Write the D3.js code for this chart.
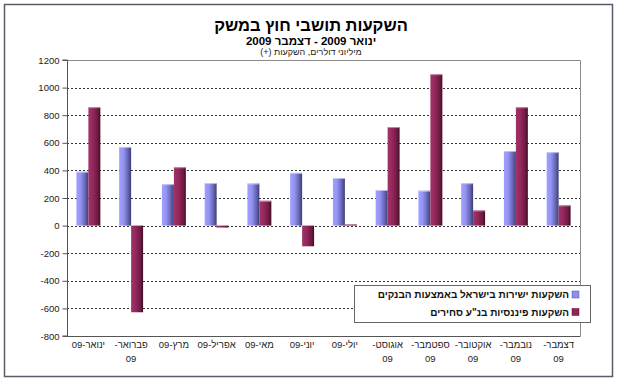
<!DOCTYPE html>
<html><head><meta charset="utf-8">
<script src="https://cdn.jsdelivr.net/npm/d3@7/dist/d3.min.js"></script>
<style>
body{margin:0;background:#fff;}
svg{display:block;font-family:"Liberation Sans",Arial,sans-serif;}
</style></head>
<body><svg id="c" width="617" height="381"></svg>
<script>
const categories = [["ינואר-09"],["פברואר-","09"],["מרץ-09"],["אפריל-09"],["מאי-09"],["יוני-09"],["יולי-09"],["אוגוסט-","09"],["ספטמבר-","09"],["אוקטובר-","09"],["נובמבר-","09"],["דצמבר-","09"]];
const seriesNames = ["השקעות ישירות בישראל באמצעות הבנקים","השקעות פיננסיות בנ\"ע סחירים"];
const directInv = [390,570,300,308,305,382,345,258,253,307,540,532];
const financialInv = [858,-628,423,-14,180,-150,10,714,1097,110,858,147];
const yTicks = [-800,-600,-400,-200,0,200,400,600,800,1000,1200];
const title = "השקעות תושבי חוץ במשק";
const subtitle = "ינואר 2009 - דצמבר 2009";
const unitsNote = "מיליוני דולרים, השקעות (+)";

const svg = d3.select("#c");
const defs = svg.append("defs");
function grad(id, stops){
  const g = defs.append("linearGradient").attr("id",id).attr("x1","0").attr("x2","1").attr("y1","0").attr("y2","0");
  stops.forEach(s=>g.append("stop").attr("offset",s[0]).attr("stop-color",s[1]));
}
grad("gBlue",[[0,"#a0a0ff"],[0.35,"#9494f4"],[0.75,"#6464b0"],[1,"#3c3c78"]]);
grad("gRed",[[0,"#a03468"],[0.4,"#93265c"],[0.8,"#6a1a40"],[1,"#3e0c24"]]);

// outer frame
svg.append("rect").attr("x",4.5).attr("y",4.5).attr("width",608).attr("height",372)
  .attr("fill","#fff").attr("stroke","#5e5868").attr("stroke-width",1.5);

const L=67, R=580, T=60, B=336;
const x = d3.scaleBand().domain(d3.range(categories.length)).range([L,R]).paddingInner(0.44).paddingOuter(0.22);
const y = d3.scaleLinear().domain([-800,1200]).range([B,T]);

// plot border top/right
svg.append("path").attr("d",`M${L},${T+0.5}H${R+0.5}V${B}`).attr("fill","none").attr("stroke","#8a8a8a").attr("stroke-width",1);

// grid
svg.append("g").selectAll("line").data(yTicks.filter(t=>t>-800&&t<1200)).join("line")
  .attr("x1",L).attr("x2",R).attr("y1",d=>Math.round(y(d))+0.5).attr("y2",d=>Math.round(y(d))+0.5)
  .attr("stroke","#333").attr("stroke-width",1).attr("stroke-dasharray","2,2");

// bars
const xs = d3.scaleBand().domain([0,1]).range([0,x.bandwidth()]);
const series=[directInv,financialInv];
const fills=["url(#gBlue)","url(#gRed)"];
series.forEach((vals,si)=>{
  const g=svg.append("g");
  g.selectAll("rect").data(vals).join("rect")
    .attr("x",(d,i)=>x(i)+xs(si)).attr("width",xs.bandwidth())
    .attr("y",d=>y(Math.max(0,d))).attr("height",d=>Math.abs(y(d)-y(0)))
    .attr("fill",fills[si]);
  g.selectAll("line").data(vals).join("line")
    .attr("x1",(d,i)=>x(i)+xs(si)).attr("x2",(d,i)=>x(i)+xs(si)+xs.bandwidth())
    .attr("y1",d=>y(Math.max(0,d))+0.5).attr("y2",d=>y(Math.max(0,d))+0.5)
    .attr("stroke",si?"#d8a0bc":"#d0d0ff").attr("stroke-width",1).attr("opacity",d=>d>0?0.8:0);
});

// y axis
const ya = svg.append("g").attr("transform",`translate(${L+0.5},0)`)
  .call(d3.axisLeft(y).tickValues(yTicks).tickSize(5).tickPadding(3).tickFormat(d=>String(d)));
ya.attr("font-family",null);
ya.select(".domain").attr("stroke","#555").attr("d",`M-5,${T}H0V${B}H-5`);
ya.selectAll(".tick line").attr("stroke","#555");
ya.selectAll("text").attr("font-size",9.5).attr("fill","#222");
// bottom axis line
svg.append("line").attr("x1",L).attr("x2",R+0.5).attr("y1",B+0.5).attr("y2",B+0.5).attr("stroke","#555");

// x labels
const xl = svg.append("g");
categories.forEach((lines,i)=>{
  const t = xl.append("text").attr("x",x(i)+x.bandwidth()/2).attr("y",348)
    .attr("text-anchor","middle").attr("font-size",9.5).attr("fill","#222").attr("direction","rtl").attr("unicode-bidi","embed");
  lines.forEach((s,k)=>t.append("tspan").attr("x",x(i)+x.bandwidth()/2).attr("dy",k?14:0).text(s));
});

// titles
svg.append("text").attr("x",311).attr("y",31).attr("text-anchor","middle").attr("font-size",16.5).attr("font-weight","bold").attr("direction","rtl").text(title);
svg.append("text").attr("x",311).attr("y",45).attr("text-anchor","middle").attr("font-size",11.5).attr("font-weight","bold").attr("direction","rtl").text(subtitle);
svg.append("text").attr("x",311).attr("y",55).attr("text-anchor","middle").attr("font-size",9).attr("fill","#222").attr("direction","rtl").text(unitsNote);

// legend
const lg = svg.append("g");
lg.append("rect").attr("x",354.5).attr("y",285.5).attr("width",236).attr("height",37).attr("fill","#fff").attr("stroke","#666");
seriesNames.forEach((n,i)=>{
  const yy = 298+i*17.5;
  lg.append("rect").attr("x",572).attr("y",yy-7).attr("width",7).attr("height",7).attr("fill",i?"#8e2457":"#8f8fef").attr("stroke",i?"#5a1030":"#5050a0").attr("stroke-width",0.5);
  lg.append("text").attr("x",569).attr("y",yy).attr("text-anchor","start").attr("direction","rtl").attr("font-size",10).attr("font-weight","bold").attr("fill","#111").text(n);
});
</script></body></html>
